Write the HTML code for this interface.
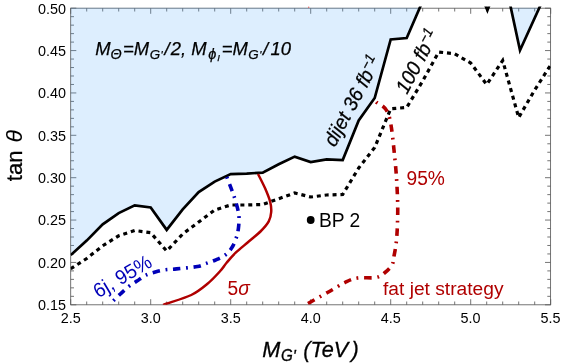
<!DOCTYPE html>
<html><head><meta charset="utf-8"><title>plot</title>
<style>
html,body{margin:0;padding:0;background:#fff;}
svg{display:block;will-change:transform;font-family:"Liberation Sans",sans-serif;}
</style></head><body>
<svg width="561" height="364" viewBox="0 0 561 364">
<rect width="561" height="364" fill="#ffffff"/>
<defs><clipPath id="c"><rect x="70.30" y="7.80" width="480.70" height="297.40"/></clipPath>
<clipPath id="d"><rect x="70.70" y="6.40" width="479.90" height="298.40"/></clipPath></defs>
<rect x="70.70" y="8.20" width="479.90" height="296.60" fill="none" stroke="#5c5c5c" stroke-width="0.85"/>
<path d="M70.70 304.80v-5.6M70.70 8.20v5.6M86.70 304.80v-3.3M86.70 8.20v3.3M102.70 304.80v-3.3M102.70 8.20v3.3M118.70 304.80v-3.3M118.70 8.20v3.3M134.70 304.80v-3.3M134.70 8.20v3.3M150.70 304.80v-5.6M150.70 8.20v5.6M166.70 304.80v-3.3M166.70 8.20v3.3M182.70 304.80v-3.3M182.70 8.20v3.3M198.70 304.80v-3.3M198.70 8.20v3.3M214.70 304.80v-3.3M214.70 8.20v3.3M230.70 304.80v-5.6M230.70 8.20v5.6M246.70 304.80v-3.3M246.70 8.20v3.3M262.70 304.80v-3.3M262.70 8.20v3.3M278.70 304.80v-3.3M278.70 8.20v3.3M294.70 304.80v-3.3M294.70 8.20v3.3M310.70 304.80v-5.6M310.70 8.20v5.6M326.70 304.80v-3.3M326.70 8.20v3.3M342.70 304.80v-3.3M342.70 8.20v3.3M358.70 304.80v-3.3M358.70 8.20v3.3M374.70 304.80v-3.3M374.70 8.20v3.3M390.70 304.80v-5.6M390.70 8.20v5.6M406.70 304.80v-3.3M406.70 8.20v3.3M422.70 304.80v-3.3M422.70 8.20v3.3M438.70 304.80v-3.3M438.70 8.20v3.3M454.70 304.80v-3.3M454.70 8.20v3.3M470.70 304.80v-5.6M470.70 8.20v5.6M486.70 304.80v-3.3M486.70 8.20v3.3M502.70 304.80v-3.3M502.70 8.20v3.3M518.70 304.80v-3.3M518.70 8.20v3.3M534.70 304.80v-3.3M534.70 8.20v3.3M550.70 304.80v-5.6M550.70 8.20v5.6M70.70 304.80h5.6M550.60 304.80h-5.6M70.70 296.33h3.3M550.60 296.33h-3.3M70.70 287.85h3.3M550.60 287.85h-3.3M70.70 279.38h3.3M550.60 279.38h-3.3M70.70 270.90h3.3M550.60 270.90h-3.3M70.70 262.43h5.6M550.60 262.43h-5.6M70.70 253.95h3.3M550.60 253.95h-3.3M70.70 245.48h3.3M550.60 245.48h-3.3M70.70 237.01h3.3M550.60 237.01h-3.3M70.70 228.53h3.3M550.60 228.53h-3.3M70.70 220.06h5.6M550.60 220.06h-5.6M70.70 211.58h3.3M550.60 211.58h-3.3M70.70 203.11h3.3M550.60 203.11h-3.3M70.70 194.63h3.3M550.60 194.63h-3.3M70.70 186.16h3.3M550.60 186.16h-3.3M70.70 177.69h5.6M550.60 177.69h-5.6M70.70 169.21h3.3M550.60 169.21h-3.3M70.70 160.74h3.3M550.60 160.74h-3.3M70.70 152.26h3.3M550.60 152.26h-3.3M70.70 143.79h3.3M550.60 143.79h-3.3M70.70 135.31h5.6M550.60 135.31h-5.6M70.70 126.84h3.3M550.60 126.84h-3.3M70.70 118.37h3.3M550.60 118.37h-3.3M70.70 109.89h3.3M550.60 109.89h-3.3M70.70 101.42h3.3M550.60 101.42h-3.3M70.70 92.94h5.6M550.60 92.94h-5.6M70.70 84.47h3.3M550.60 84.47h-3.3M70.70 75.99h3.3M550.60 75.99h-3.3M70.70 67.52h3.3M550.60 67.52h-3.3M70.70 59.05h3.3M550.60 59.05h-3.3M70.70 50.57h5.6M550.60 50.57h-5.6M70.70 42.10h3.3M550.60 42.10h-3.3M70.70 33.62h3.3M550.60 33.62h-3.3M70.70 25.15h3.3M550.60 25.15h-3.3M70.70 16.67h3.3M550.60 16.67h-3.3M70.70 8.20h5.6M550.60 8.20h-5.6" stroke="#5c5c5c" stroke-width="0.85" fill="none"/>
<g clip-path="url(#c)">
<polygon points="70.70,255.10 86.70,240.60 102.70,224.40 118.70,213.10 134.70,205.40 150.70,207.40 166.70,229.90 182.70,209.40 198.70,192.10 214.70,181.60 230.70,174.10 246.70,173.60 262.70,172.60 278.70,164.30 294.70,156.60 310.70,162.10 326.70,159.30 342.70,160.10 358.70,120.50 374.70,98.00 390.70,39.50 406.70,38.00 422.70,1.00 438.70,-30.00 470.70,-30.00 487.40,10.30 502.70,-30.00 520.00,50.30 550.60,-17.00 550.6,-60 70.7,-60" fill="#55aafa" fill-opacity="0.2"/>
</g>
<g clip-path="url(#d)">
<polyline points="70.70,268.75 86.70,258.50 102.70,245.80 118.70,235.80 134.70,230.50 150.70,232.70 166.70,251.00 182.70,234.00 198.70,222.00 214.70,210.00 230.70,205.00 246.70,205.00 262.70,204.50 278.70,198.75 294.70,193.00 310.70,197.00 326.70,195.00 342.70,194.50 358.70,168.00 374.70,147.50 390.70,108.75 406.70,107.50 422.70,81.00 438.70,52.00 454.70,53.75 470.70,63.00 486.70,84.50 502.70,60.50 518.70,117.60 534.70,90.00 550.70,65.00" fill="none" stroke="#000" stroke-width="3.2" stroke-dasharray="4 3.9" stroke-linejoin="miter"/>
<polyline points="70.70,255.10 86.70,240.60 102.70,224.40 118.70,213.10 134.70,205.40 150.70,207.40 166.70,229.90 182.70,209.40 198.70,192.10 214.70,181.60 230.70,174.10 246.70,173.60 262.70,172.60 278.70,164.30 294.70,156.60 310.70,162.10 326.70,159.30 342.70,160.10 358.70,120.50 374.70,98.00 390.70,39.50 406.70,38.00 422.70,1.00 438.70,-30.00 470.70,-30.00 487.40,10.30 502.70,-30.00 520.00,50.30 550.60,-17.00" fill="none" stroke="#000" stroke-width="2.7" stroke-linejoin="miter"/>
<path d="M258.00 174.00C259.20 176.43 263.17 183.93 265.20 188.60C267.23 193.27 269.20 198.10 270.20 202.00C271.20 205.90 271.44 208.77 271.20 212.00C270.96 215.23 270.50 218.19 268.75 221.40C267.00 224.61 264.12 227.82 260.70 231.25C257.27 234.68 252.37 238.43 248.20 242.00C244.03 245.57 239.27 249.28 235.70 252.70C232.13 256.12 229.42 259.41 226.80 262.50C224.18 265.59 223.22 267.71 220.00 271.25C216.78 274.79 212.29 279.79 207.50 283.75C202.71 287.71 198.12 291.67 191.25 295.00C184.38 298.33 170.96 302.08 166.25 303.75C161.54 305.42 163.54 304.79 163.00 305.00" fill="none" stroke="#b00000" stroke-width="2.5" stroke-linejoin="round"/>
<path d="M226.80 177.00C227.54 178.93 230.00 185.27 231.25 188.60C232.50 191.93 233.26 193.73 234.30 197.00C235.34 200.27 236.72 204.87 237.50 208.20C238.28 211.53 238.85 213.60 239.00 217.00C239.15 220.40 238.86 225.12 238.40 228.60C237.94 232.08 237.30 234.78 236.25 237.90C235.20 241.02 233.82 244.53 232.10 247.30C230.38 250.07 228.58 252.42 225.90 254.50C223.22 256.58 219.28 258.32 216.00 259.80C212.72 261.28 209.33 262.28 206.25 263.40C203.17 264.52 202.46 265.58 197.50 266.50C192.54 267.42 181.85 268.37 176.50 268.90C171.15 269.43 168.93 269.20 165.40 269.70C161.87 270.20 158.63 270.95 155.30 271.90C151.97 272.85 148.47 273.87 145.40 275.40C142.33 276.93 139.70 279.22 136.90 281.10C134.10 282.98 131.37 284.55 128.60 286.70C125.83 288.85 122.88 291.62 120.30 294.00C117.72 296.38 114.90 299.17 113.10 301.00C111.30 302.83 110.10 304.33 109.50 305.00" fill="none" stroke="#0000b8" stroke-width="3.6" stroke-dasharray="1.8 5.65 7.5 5.65" stroke-linejoin="round"/>
<path d="M376.25 102.00C378.33 104.17 385.62 105.33 388.75 115.00C391.88 124.67 393.54 146.25 395.00 160.00C396.46 173.75 397.08 187.08 397.50 197.50C397.92 207.92 397.71 215.00 397.50 222.50C397.29 230.00 396.88 236.67 396.25 242.50C395.62 248.33 394.46 253.75 393.75 257.50C393.04 261.25 393.46 262.50 392.00 265.00C390.54 267.50 387.62 270.42 385.00 272.50C382.38 274.58 380.83 276.58 376.25 277.50C371.67 278.42 362.71 277.17 357.50 278.00C352.29 278.83 350.00 280.08 345.00 282.50C340.00 284.92 333.75 288.96 327.50 292.50C321.25 296.04 311.25 301.63 307.50 303.75C303.75 305.87 305.42 304.96 305.00 305.20" fill="none" stroke="#b00000" stroke-width="3.6" stroke-dasharray="1.8 5.75 7.5 5.75" stroke-linejoin="round"/>
</g>
<g font-size="14.4" fill="#000"><text transform="translate(70.70,323.3) scale(1,1.05)" text-anchor="middle">2.5</text><text transform="translate(150.68,323.3) scale(1,1.05)" text-anchor="middle">3.0</text><text transform="translate(230.67,323.3) scale(1,1.05)" text-anchor="middle">3.5</text><text transform="translate(310.65,323.3) scale(1,1.05)" text-anchor="middle">4.0</text><text transform="translate(390.63,323.3) scale(1,1.05)" text-anchor="middle">4.5</text><text transform="translate(470.62,323.3) scale(1,1.05)" text-anchor="middle">5.0</text><text transform="translate(550.60,323.3) scale(1,1.05)" text-anchor="middle">5.5</text><text transform="translate(65.9,310.10) scale(1,1.05)" text-anchor="end">0.15</text><text transform="translate(65.9,267.73) scale(1,1.05)" text-anchor="end">0.20</text><text transform="translate(65.9,225.36) scale(1,1.05)" text-anchor="end">0.25</text><text transform="translate(65.9,182.99) scale(1,1.05)" text-anchor="end">0.30</text><text transform="translate(65.9,140.61) scale(1,1.05)" text-anchor="end">0.35</text><text transform="translate(65.9,98.24) scale(1,1.05)" text-anchor="end">0.40</text><text transform="translate(65.9,55.87) scale(1,1.05)" text-anchor="end">0.45</text><text transform="translate(65.9,13.50) scale(1,1.05)" text-anchor="end">0.50</text></g>
<circle cx="310.7" cy="220" r="3.9" fill="#000"/><circle cx="308.7" cy="7.3" r="0.7" fill="#e06060"/>
<g font-size="19.2">
<text transform="translate(318.9,226.8) scale(1,1.05)" fill="#000">BP 2</text>
<text transform="translate(406.5,184.7) scale(1,1.05)" fill="#b00000">95%</text>
<text transform="translate(383,294.9)" fill="#b00000">fat jet strategy</text>
<text transform="translate(227.6,295) scale(1,1.05)" fill="#b00000">5<tspan font-style="italic">σ</tspan></text>
<text fill="#0000b8" transform="translate(98.3,298.4) rotate(-30.5) scale(1,1.05)">6j, 95%</text>
<text font-style="italic" fill="#000" stroke="#000" stroke-width="0.25" transform="translate(335.1,147.8) rotate(-62) scale(1,1.05)">dijet 36 fb<tspan dy="-6.5" dx="0.4" font-size="13.5">−1</tspan></text>
<text font-style="italic" fill="#000" stroke="#000" stroke-width="0.25" transform="translate(407,95) rotate(-62) scale(1,1.05)">100 fb<tspan dy="-6.5" dx="0.4" font-size="13.5">−1</tspan></text>
</g>
<g font-size="18.4" font-style="italic" fill="#000" stroke="#000" stroke-width="0.25">
<text x="95.2" y="55.4">M</text><text x="110.6" y="59.2" font-size="14.4">Θ</text><text x="123" y="55.4">=M</text>
<text x="149.8" y="59" font-size="13.4">G</text><text x="160.6" y="59" font-size="11">'</text><text x="164.6" y="55.4">/</text><text x="170.8" y="55.4">2,</text>
<text x="191.3" y="55.4">M</text><text x="208.3" y="59" font-size="14.5">ϕ</text><text x="217.2" y="61.3" font-size="9.5">I</text><text x="221.7" y="55.4">=M</text>
<text x="248.2" y="59" font-size="13.4">G</text><text x="259.2" y="59" font-size="11">'</text><text x="263" y="55.4">/</text><text x="270.5" y="55.4">10</text>
</g>
<g font-size="21.7" font-style="italic" fill="#000" stroke="#000" stroke-width="0.3">
<text transform="translate(262.2,357.3) scale(1,1.05)">M</text>
<text transform="translate(281,360.6) scale(1,1.05)" font-size="15.2">G</text>
<text transform="translate(292.8,361.5) scale(1,1.05)" font-size="16">'</text>
<text transform="translate(303.3,357.3) scale(1,1.05)">(TeV</text>
<text transform="translate(351.6,357.3) scale(1,1.05)">)</text>
</g>
<text font-size="22" fill="#000" stroke="#000" stroke-width="0.3" transform="translate(22.2,181.2) rotate(-90)">tan</text>
<text font-size="23" font-style="italic" fill="#000" stroke="#000" stroke-width="0.12" transform="translate(22.2,142.6) rotate(-90)">θ</text>
</svg>
</body></html>
